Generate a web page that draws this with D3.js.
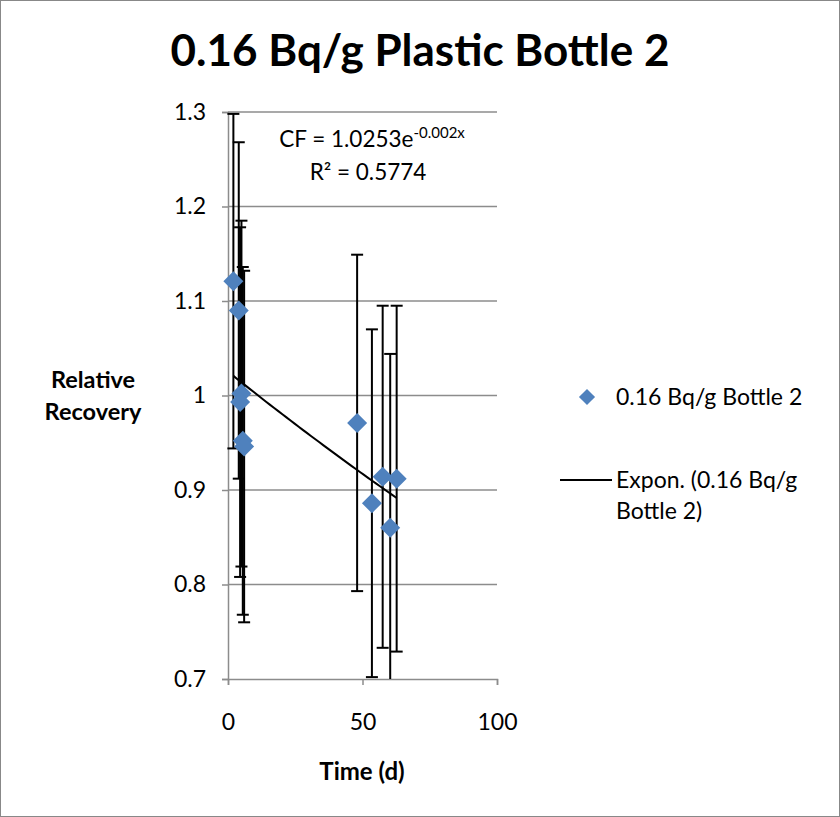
<!DOCTYPE html>
<html>
<head>
<meta charset="utf-8">
<script src="https://cdn.jsdelivr.net/npm/d3@7"></script>
<style>
  body { margin: 0; background: #fff; }
  svg { font-family: Lato, "Liberation Sans", sans-serif; }
</style>
</head>
<body>
<svg id="chart" width="840" height="817"></svg>
<script>
// data
const days = [2, 4, 5, 4.5, 5.5, 6, 48, 53.5, 57.5, 60.3, 62.7];
const recovery = [1.121, 1.090, 1.002, 0.993, 0.952, 0.946, 0.971, 0.886, 0.914, 0.860, 0.912];
const errors = [0.177, 0.178, 0.183, 0.185, 0.184, 0.186, 0.178, 0.184, 0.181, 0.184, 0.183];
const xTicks = [0, 50, 100];
const yTicks = [0.7, 0.8, 0.9, 1.0, 1.1, 1.2, 1.3];
const fitA = 1.0253, fitB = -0.00223;
const title = "0.16 Bq/g Plastic Bottle 2";
const seriesName = "0.16 Bq/g Bottle 2";

const svg = d3.select("#chart");
const blue = "#4f81bd";
const grid = "#8c8c8c";

svg.append("rect")
  .attr("x", 0.5).attr("y", 0.5)
  .attr("width", 839).attr("height", 816)
  .attr("fill", "#fff").attr("stroke", "#888");

const x = d3.scaleLinear().domain([0, 100]).range([228, 497]);
const y = d3.scaleLinear().domain([0.7, 1.3]).range([679, 112]);

svg.append("text")
  .attr("x", 420).attr("y", 66)
  .attr("text-anchor", "middle")
  .attr("font-size", 44).attr("font-weight", "bold")
  .text(title);

// gridlines + y axis
const yAxis = d3.axisLeft(y).tickValues(yTicks)
  .tickSize(6).tickPadding(16)
  .tickFormat(d => d3.format("")(+d.toFixed(1)));
const gy = svg.append("g").attr("transform", `translate(${x(0)},0)`).call(yAxis);
gy.select(".domain").attr("stroke", grid).attr("stroke-width", 1.5);
gy.selectAll(".tick line").attr("stroke", grid).attr("stroke-width", 1.5);
gy.selectAll(".tick text").attr("font-size", 23).attr("fill", "#000")
  .attr("font-family", "Lato, sans-serif");

svg.append("g").selectAll("line")
  .data(yTicks.filter(d => d > 0.7))
  .join("line")
  .attr("x1", x(0)).attr("x2", x(100))
  .attr("y1", d => y(d)).attr("y2", d => y(d))
  .attr("stroke", grid).attr("stroke-width", 1.5);

const xAxis = d3.axisBottom(x).tickValues(xTicks).tickSize(6).tickPadding(29);
const gx = svg.append("g").attr("transform", `translate(0,${y(0.7)})`).call(xAxis);
gx.select(".domain").attr("stroke", grid).attr("stroke-width", 1.5);
gx.selectAll(".tick line").attr("stroke", grid).attr("stroke-width", 1.5);
gx.selectAll(".tick text").attr("font-size", 23).attr("fill", "#000")
  .attr("font-family", "Lato, sans-serif");

// axis titles
const yt = svg.append("text")
  .attr("text-anchor", "middle")
  .attr("font-size", 23.5).attr("font-weight", "bold");
yt.append("tspan").attr("x", 93).attr("y", 388).text("Relative");
yt.append("tspan").attr("x", 93).attr("y", 420).text("Recovery");

svg.append("text")
  .attr("x", 362).attr("y", 780)
  .attr("text-anchor", "middle")
  .attr("font-size", 24).attr("font-weight", "bold")
  .text("Time (d)");

const pts = days.map((d, i) => ({ t: d, v: recovery[i], e: errors[i] }));

// trendline
const tMin = d3.min(days), tMax = d3.max(days);
const trend = d3.range(0, 41).map(i => {
  const t = tMin + (tMax - tMin) * i / 40;
  return [t, fitA * Math.exp(fitB * t)];
});
svg.append("path")
  .datum(trend)
  .attr("d", d3.line().x(d => x(d[0])).y(d => y(d[1])))
  .attr("fill", "none").attr("stroke", "#000").attr("stroke-width", 2);

// error bars
const clip = v => Math.max(0.7, Math.min(1.3, v));
const eb = svg.append("g").attr("stroke", "#000").attr("stroke-width", 2);
eb.selectAll("line.v").data(pts).join("line").attr("class", "v")
  .attr("x1", d => x(d.t)).attr("x2", d => x(d.t))
  .attr("y1", d => y(clip(d.v + d.e))).attr("y2", d => y(clip(d.v - d.e)));
eb.selectAll("line.top").data(pts).join("line").attr("class", "top")
  .attr("x1", d => x(d.t) - 6).attr("x2", d => x(d.t) + 6)
  .attr("y1", d => y(d.v + d.e)).attr("y2", d => y(d.v + d.e));
eb.selectAll("line.bot").data(pts.filter(d => d.v - d.e >= 0.7)).join("line").attr("class", "bot")
  .attr("x1", d => x(d.t) - 6).attr("x2", d => x(d.t) + 6)
  .attr("y1", d => y(d.v - d.e)).attr("y2", d => y(d.v - d.e));

// markers
const diamond = d3.symbol().type(d3.symbolSquare).size(200);
svg.append("g").selectAll("path").data(pts).join("path")
  .attr("d", diamond)
  .attr("transform", d => `translate(${x(d.t)},${y(d.v)}) rotate(45)`)
  .attr("fill", blue);

// equation label
const eq = svg.append("text")
  .attr("x", 372).attr("y", 147)
  .attr("text-anchor", "middle").attr("font-size", 22.5);
eq.append("tspan").text("CF = 1.0253e");
eq.append("tspan").attr("font-size", 15).attr("dy", -9).text("-0.002x");
svg.append("text")
  .attr("x", 368).attr("y", 180)
  .attr("text-anchor", "middle").attr("font-size", 22.5)
  .text("R² = 0.5774");

// legend
svg.append("path")
  .attr("d", d3.symbol().type(d3.symbolSquare).size(130))
  .attr("transform", "translate(587,397) rotate(45)")
  .attr("fill", blue);
svg.append("text")
  .attr("x", 616).attr("y", 405)
  .attr("font-size", 23).text(seriesName);
svg.append("line")
  .attr("x1", 560).attr("x2", 612).attr("y1", 480).attr("y2", 480)
  .attr("stroke", "#000").attr("stroke-width", 2);
const lt = svg.append("text").attr("font-size", 23);
lt.append("tspan").attr("x", 616).attr("y", 488).text("Expon. (" + seriesName.replace(" Bottle 2", ""));
lt.append("tspan").attr("x", 616).attr("y", 519).text("Bottle 2)");
</script>
</body>
</html>
